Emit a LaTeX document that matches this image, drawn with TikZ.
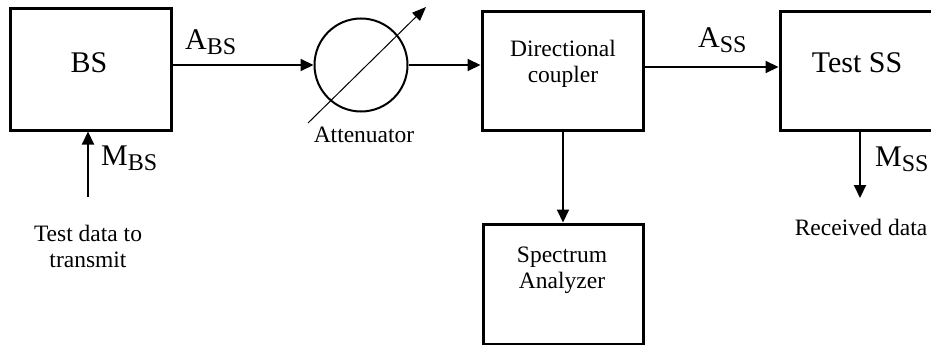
\documentclass[tikz,border=0pt]{standalone}
\usepackage{fontspec}
\setmainfont{Liberation Serif}
\usetikzlibrary{arrows.meta}
\newcommand{\bigf}{\fontsize{30}{36}\selectfont}
\newcommand{\smallf}{\fontsize{23.5}{26}\selectfont}
\newcommand{\subf}[1]{\raisebox{-5pt}{\fontsize{24}{28}\selectfont #1}}
\begin{document}
\begin{tikzpicture}[x=1pt,y=-1pt,
  blk/.style={draw, line width=3pt, inner sep=0pt},
  conn/.style={line width=2pt, -{Triangle[length=13pt,width=12pt]}},
  big/.style={font=\bigf, inner sep=0pt, anchor=base},
  small/.style={font=\smallf, inner sep=0pt, anchor=base, align=center}]
\useasboundingbox (0,0) rectangle (931,345);
% boxes
\node[blk, minimum width=161, minimum height=121] (bs) at (90.5,69.5) {};
\node[blk, minimum width=161, minimum height=118] (dc) at (562.5,71) {};
\node[blk, minimum width=161, minimum height=118] (ss) at (860.5,71) {};
\node[blk, minimum width=160, minimum height=120] (sa) at (563,284) {};
\node[draw, circle, line width=2pt, minimum size=93, inner sep=0pt] (att) at (361,65) {};
% texts
\node[big] (bst) at (89,72) {BS};
\node[big] (sst) at (857,73) {Test SS};
\node[small] (dct) at (563,82) {Directional\\coupler};
\node[small] (sat) at (562,288) {Spectrum\\Analyzer};
\node[small] (attt) at (364,142) {Attenuator};
\node[small] (tdt) at (88,267) {Test data to\\transmit};
\node[small] (rdt) at (861,235) {Received data};
\node[big, anchor=base west] (abs) at (185,50) {A\subf{BS}};
\node[big, anchor=base west] (mbs) at (101,165) {M\subf{BS}};
\node[big, anchor=base west] (ass) at (698,48) {A\subf{SS}};
\node[big, anchor=base west] (mss) at (875,166) {M\subf{SS}};
% connectors
\draw[conn] (bs.east |- 0,65) -- (att.west);
\draw[conn] (att.east) -- (dc.west |- att.east);
\draw[conn] (dc.east |- 0,67) -- (ss.west |- 0,67);
\draw[conn] (dc.south -| 563,0) -- (sa.north -| 563,0);
\coordinate (tdin) at (88,197);
\draw[conn] (tdin) -- (tdin |- bs.south);
\coordinate (rdout) at (860,198);
\draw[conn] (rdout |- ss.south) -- (rdout);
\coordinate (attA) at (308,123);
\coordinate (attB) at (426,7);
\draw[line width=1pt, -{Triangle[length=14pt,width=11pt]}] (attA) -- (attB);
\end{tikzpicture}
\end{document}
